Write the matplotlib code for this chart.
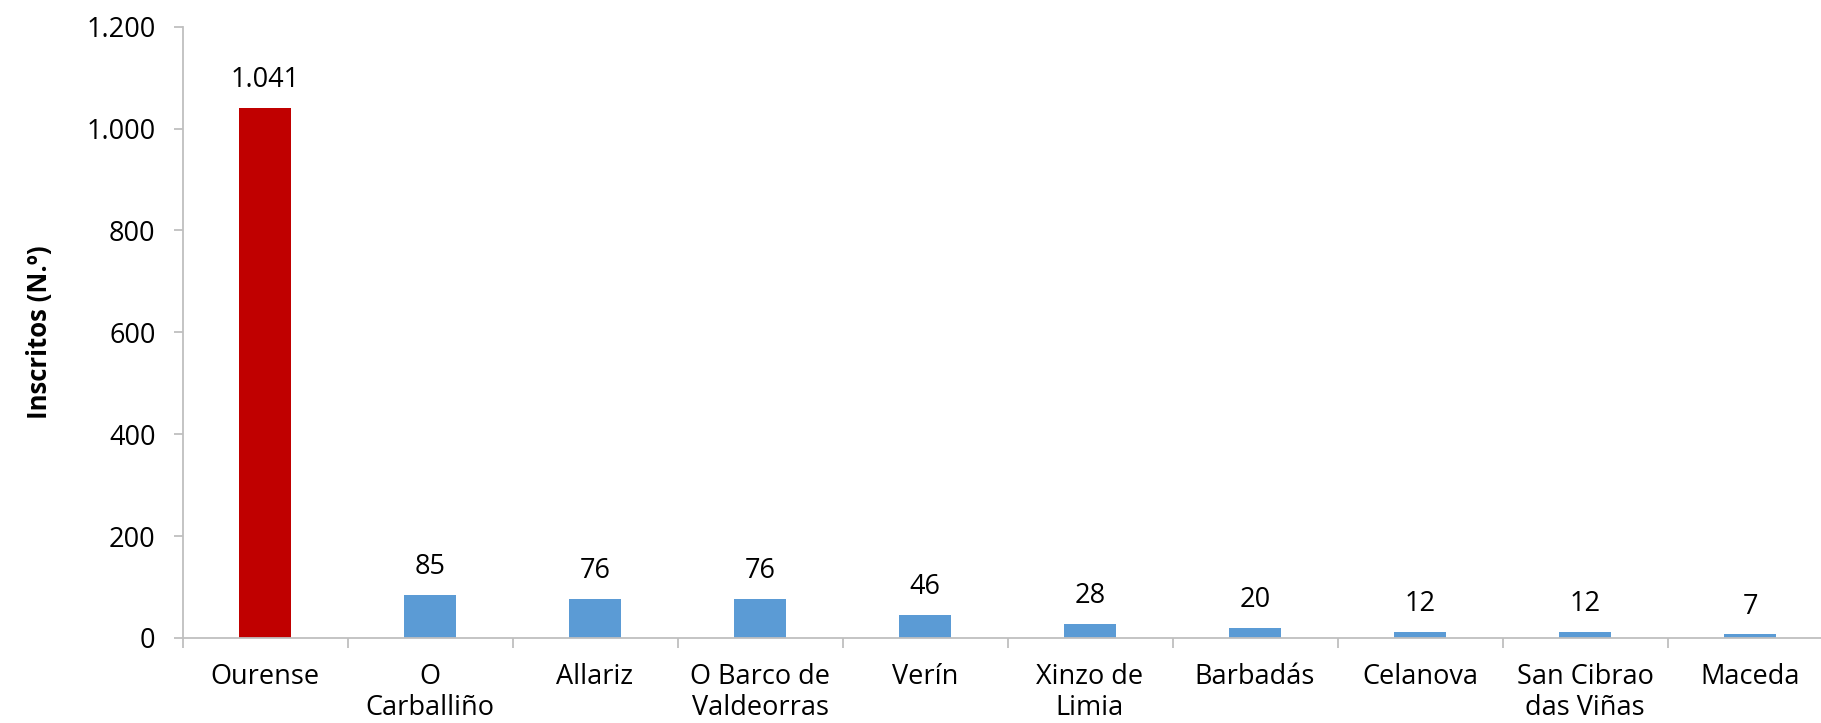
import matplotlib.pyplot as plt
import numpy as np

municipios = ['Ourense', 'O\nCarballiño', 'Allariz', 'O Barco de\nValdeorras', 'Verín',
              'Xinzo de\nLimia', 'Barbadás', 'Celanova', 'San Cibrao\ndas Viñas', 'Maceda']
inscritos = [1041, 85, 76, 76, 46, 28, 20, 12, 12, 7]
yticks = [0, 200, 400, 600, 800, 1000, 1200]

plt.rcParams['font.family'] = ['Open Sans', 'DejaVu Sans']

def fmt(v):
    return '{:,}'.format(v).replace(',', '.')

W, H = 1821, 723
fig = plt.figure(figsize=(W / 100, H / 100), dpi=100)
ax = fig.add_axes([182.5 / W, 85 / H, 1650 / W, (638 - 26.7) / H])

x = np.arange(len(municipios))
colors = ['#C00000'] + ['#5B9BD5'] * (len(municipios) - 1)
bars = ax.bar(x, inscritos, width=0.315, color=colors)

for xi, v in zip(x, inscritos):
    ax.annotate(fmt(v), (xi, v), xytext=(0, 10), textcoords='offset points',
                ha='center', va='bottom', fontsize=19.5, color='#000000')

ax.set_xlim(-0.5, len(municipios) - 0.5)
ax.set_ylim(0, 1200)
ax.set_yticks(yticks)
ax.set_yticklabels([fmt(t) for t in yticks], fontsize=19.5)
ax.set_xticks(x)
ax.set_xticklabels(municipios, fontsize=19.5, linespacing=1.15)
ax.set_xticks(np.arange(-0.5, len(municipios)), minor=True)

grey = '#BFBFBF'
for s in ['top', 'right']:
    ax.spines[s].set_visible(False)
for s in ['left', 'bottom']:
    ax.spines[s].set_color(grey)
    ax.spines[s].set_linewidth(1.3)
ax.tick_params(axis='y', length=6.5, width=1.3, color=grey, pad=13)
ax.tick_params(axis='x', which='major', length=0, pad=18)
ax.tick_params(axis='x', which='minor', length=7, width=1.3, color=grey)

ax.set_ylabel('Inscritos (N.º)', fontsize=18.5, fontweight='bold', labelpad=24)

fig.savefig('out.png', dpi=100)
